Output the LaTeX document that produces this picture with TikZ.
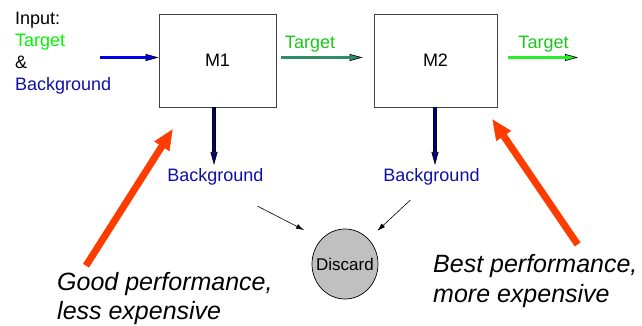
\documentclass[tikz,border=0pt]{standalone}
\usepackage{fontspec}
\setmainfont{Liberation Sans}
\usepackage{xcolor}
\usepackage{tikz}
\usetikzlibrary{positioning,calc,arrows.meta,shapes.geometric}

\definecolor{tgtgreen}{RGB}{0,245,0}
\definecolor{lblgreen}{RGB}{25,200,25}
\definecolor{bgblue}{RGB}{15,15,165}
\definecolor{inblue}{RGB}{0,0,235}
\definecolor{passgreen}{RGB}{50,140,100}
\definecolor{outgreen}{RGB}{40,240,40}
\definecolor{dropblue}{RGB}{0,0,130}
\definecolor{hintred}{RGB}{255,60,0}
\definecolor{discgray}{RGB}{192,192,192}

\begin{document}
\begin{tikzpicture}[
        x=1pt, y=-1pt,
        stage/.style={draw=black!75, line width=0.9pt, fill=white, minimum width=#1, minimum height=93pt,
                      inner sep=0pt, font=\fontsize{18}{22}\selectfont},
        txt/.style={inner sep=0pt, anchor=base west, font=\fontsize{18}{22}\selectfont},
        note/.style={inner sep=0pt, align=left, anchor=base west, font=\fontsize{25}{29.5}\selectfont\itshape},
        flow/.style={draw=black, line width=3.4pt, -{Triangle[length=13pt, width=7pt, line width=0.6pt, fill=#1]},
                     postaction={draw=#1, line width=2.2pt, arrows=-, shorten >=12.5pt}},
        hint/.style={draw=hintred, line width=7pt, -{Triangle[length=20pt, width=18pt, line width=0.5pt, fill=hintred]}},
        toss/.style={draw=black, line width=0.6pt, -{Latex[length=8pt, width=5pt]}}
    ]
    \useasboundingbox (0,0) rectangle (642,326);

    % what goes in
    \node[txt] (inhdr) at (15,25) {Input:};
    \node[txt, text=tgtgreen] (intgt) at (15,46.7) {Target};
    \node[txt] (inamp) at (15,68.3) {\&};
    \node[txt, text=bgblue] (inbg) at (15,90.7) {Background};

    % the two stages and the bin
    \node[stage=117pt] (m1) at (217.5,60.5) {M1};
    \node[stage=123pt] (m2) at (435.5,60.5) {M2};
    \node[draw=black, line width=0.7pt, fill=discgray, ellipse, minimum width=66pt, minimum height=70pt,
          inner sep=0pt, font=\fontsize{17}{20}\selectfont] (disc) at (345,264) {\makebox[0pt]{Discard}};

    \node[txt, anchor=base, text=lblgreen] (tgt1) at (310,48.3) {Target};
    \node[txt, anchor=base, text=lblgreen] (tgt2) at (543.5,48.3) {Target};
    \node[txt, anchor=base, text=bgblue] (bg1) at (215.3,181.7) {Background};
    \node[txt, anchor=base, text=bgblue] (bg2) at (431.5,181.7) {Background};

    % base of a two-line note is its second line
    \node[note] (good) at (57,319.5) {Good performance,\\less expensive};
    \node[note] (best) at (433,302.3) {Best performance,\\more expensive};

    \coordinate (src) at (100,57.5);
    \coordinate (sink) at (578,57.5);

    % main line
    \draw[flow=inblue] (src) -- (src -| m1.west);
    \draw[flow=passgreen] ($(src -| m1.east)+(5,0)$) -- ($(src -| m2.west)+(-11,0)$);
    \draw[flow=outgreen] ($(src -| m2.east)+(11,0)$) -- (sink);

    % rejected events
    \draw[flow=dropblue] ($(m1.south)+(-3.5,0)$) -- ($(m1.south |- bg1.north)+(-3.5,-3.5)$);
    \draw[flow=dropblue] ($(m2.south)+(-0.5,0)$) -- ($(m2.south |- bg2.north)+(-0.5,-3.5)$);
    \draw[toss, shorten >=19.5pt] ($(bg1.south east)+(-6,20.5)$) -- (disc.north west);
    \draw[toss, shorten >=12pt] ($(bg2.south west)+(27,14.5)$) -- (disc.north east);

    % cost remarks
    \draw[hint] ($(good.north west)+(29,-6)$) -- ($(m1.south west)+(14,22)$);
    \draw[hint] ($(best.north east)+(-60,-10)$) -- ($(m2.south east)+(-5,12)$);
\end{tikzpicture}
\end{document}
